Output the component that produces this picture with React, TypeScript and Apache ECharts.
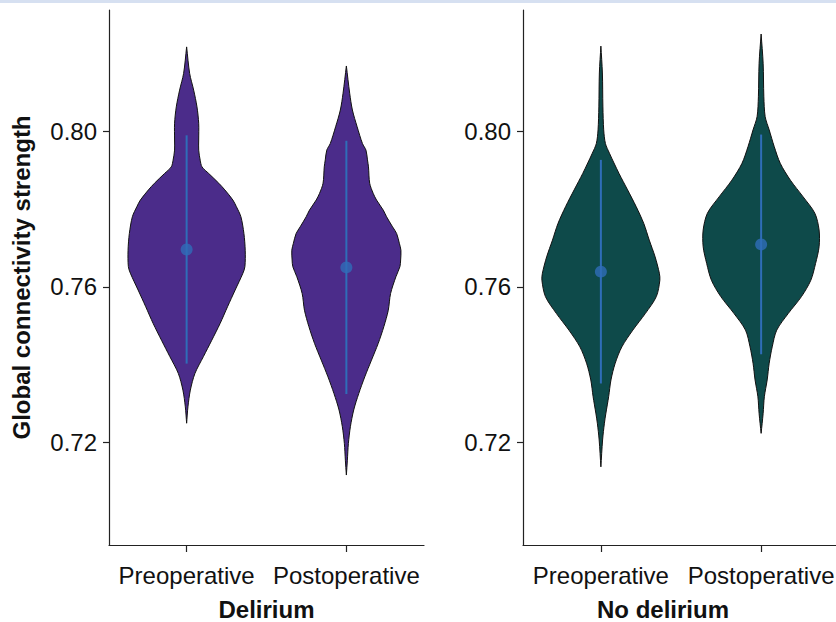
import React, { useEffect, useRef } from "react";
import * as echarts from "echarts";

// Categories and tick labels
const categories = ["Preoperative", "Postoperative"];
const groups = ["Delirium", "No delirium"];
const yTicks = [0.72, 0.76, 0.8];

// Violin profiles: [value, relative density]
const deliriumPre: number[][] = [
  [0.8216, 0], [0.8148, 3], [0.8105, 7], [0.8062, 10.3], [0.802, 12], [0.7977, 12],
  [0.7951, 12], [0.7925, 13.5], [0.7908, 15.3], [0.7891, 22], [0.7866, 32], [0.7849, 38],
  [0.7823, 46], [0.7806, 49.5], [0.778, 54], [0.7737, 57], [0.7694, 58.3], [0.7652, 58],
  [0.7635, 56], [0.7592, 48.3], [0.7549, 40.7], [0.7506, 33.3], [0.7463, 25], [0.7421, 16.7],
  [0.7378, 8.3], [0.7335, 3.7], [0.7292, 1.3], [0.725, 0],
];
const deliriumPost: number[][] = [
  [0.8167, 0], [0.8097, 3.3], [0.8054, 6], [0.8011, 10.7], [0.7968, 16], [0.7951, 19.5],
  [0.7926, 21], [0.7908, 22], [0.7866, 23.2], [0.784, 26.7], [0.7823, 30], [0.7797, 36.7],
  [0.778, 40], [0.7754, 46], [0.7737, 50], [0.7712, 52.7], [0.7694, 54.3], [0.7669, 54],
  [0.7652, 53.3], [0.7626, 49.3], [0.7583, 44], [0.754, 41.7], [0.7498, 37.3], [0.7455, 31.7],
  [0.7412, 25], [0.7369, 18.3], [0.7326, 12.3], [0.7284, 7.3], [0.7241, 4], [0.7198, 2],
  [0.7155, 1], [0.7117, 0],
];
const noDeliriumPre: number[][] = [
  [0.8218, 0], [0.8149, 1.5], [0.8062, 2], [0.8003, 2.8], [0.7968, 4.5], [0.7943, 8.5],
  [0.7918, 13], [0.7891, 18], [0.7849, 26.5], [0.7806, 35], [0.7763, 42.5], [0.772, 48],
  [0.7677, 53.8], [0.7635, 58], [0.7617, 58.5], [0.7575, 55], [0.7532, 44.2], [0.7489, 31.7],
  [0.7446, 20.8], [0.7404, 14.2], [0.7361, 10], [0.7318, 7.7], [0.7276, 5], [0.725, 3.5],
  [0.7207, 1.7], [0.7138, 0],
];
const noDeliriumPost: number[][] = [
  [0.8249, 0], [0.8174, 2], [0.8088, 2.7], [0.8037, 4], [0.8003, 8], [0.796, 13],
  [0.7917, 19], [0.7874, 29], [0.7831, 41.7], [0.7789, 53.3], [0.7746, 57.5], [0.7703, 57.5],
  [0.766, 54], [0.7617, 49.3], [0.7575, 40], [0.7532, 27], [0.7489, 15.5], [0.7446, 11],
  [0.7404, 8], [0.7361, 6], [0.7318, 3.2], [0.7275, 2], [0.7224, 0],
];

// Mean and SD per group: [preop, postop]
const deliriumMean = [0.7696, 0.765];
const deliriumSd = [0.0293, 0.0325];
const noDeliriumMean = [0.7639, 0.7709];
const noDeliriumSd = [0.0287, 0.0282];

const yMin = 0.69374;
const yMax = 0.83107;

export default function App() {
  const ref = useRef<HTMLDivElement>(null);

  useEffect(() => {
    document.body.style.margin = "0";
    if (!ref.current) return;
    const chart = echarts.init(ref.current, null, { renderer: "svg" });

    const profiles = [
      [deliriumPre, deliriumPost],
      [noDeliriumPre, noDeliriumPost],
    ];
    const means = [deliriumMean, noDeliriumMean];
    const sds = [deliriumSd, noDeliriumSd];
    const fills = ["#4b2c8a", "#0e4a4a"];
    const blue = "#2f6db8";
    let dMax = 0;
    profiles.forEach((g) => g.forEach((p) => p.forEach((r) => (dMax = Math.max(dMax, r[1])))));
    const halfFrac = 0.368;
    const font = "'Liberation Sans', Arial, Helvetica, sans-serif";

    const gridsDef = [
      { left: 109, top: 10, width: 315, height: 535, outerBoundsMode: "none", containLabel: false },
      { left: 523, top: 10, width: 316, height: 535, outerBoundsMode: "none", containLabel: false },
    ];

    const xAxes = groups.map((g, i) => ({
      type: "value",
      gridIndex: i,
      min: -0.486,
      max: 1.486,
      axisLine: { show: true, onZero: false, lineStyle: { color: "#222", width: 1.2 } },
      axisTick: { show: true, customValues: [0, 1], length: 7, lineStyle: { color: "#222", width: 1.2 } },
      axisLabel: {
        show: true,
        customValues: [0, 1],
        formatter: (v: number) => categories[Math.round(v)] ?? "",
        fontSize: 24,
        color: "#111",
        fontFamily: font,
        margin: 18,
      },
      splitLine: { show: false },
      name: g,
      nameLocation: "middle",
      nameGap: 52,
      nameTextStyle: {
        fontSize: 24,
        fontWeight: "bold",
        color: "#111",
        fontFamily: font,
        padding: i === 1 ? [0, 36, 0, 0] : 0,
      },
    }));

    const yAxes = groups.map((g, i) => ({
      type: "value",
      gridIndex: i,
      min: yMin,
      max: yMax,
      axisLine: { show: true, onZero: false, lineStyle: { color: "#222", width: 1.2 } },
      axisTick: { show: true, customValues: yTicks, length: 6, lineStyle: { color: "#222", width: 1.2 } },
      axisLabel: {
        show: true,
        customValues: yTicks,
        formatter: (v: number) => v.toFixed(2),
        fontSize: 24,
        color: "#111",
        fontFamily: font,
        margin: 12,
      },
      splitLine: { show: false },
      name: i === 0 ? "Global connectivity strength" : "",
      nameLocation: "middle",
      nameGap: 76,
      nameTextStyle: { fontSize: 24, fontWeight: "bold", color: "#111", fontFamily: font },
    }));

    const series: any[] = [];
    groups.forEach((g, gi) => {
      series.push({
        type: "custom",
        name: g + " violin",
        xAxisIndex: gi,
        yAxisIndex: gi,
        clip: false,
        silent: true,
        data: categories.map((c, ci) => [ci, means[gi][ci], means[gi][ci] - sds[gi][ci], means[gi][ci] + sds[gi][ci]]),
        encode: { x: 0, y: 1 },
        renderItem: (params: any, api: any) => {
          const ci = api.value(0);
          const prof = profiles[gi][ci];
          const band = api.size([1, 0])[0];
          const right = prof.map((r) => {
            const c = api.coord([ci, r[0]]);
            return [c[0] + (r[1] / dMax) * band * halfFrac, c[1]];
          });
          const left = prof
            .slice()
            .reverse()
            .map((r) => {
              const c = api.coord([ci, r[0]]);
              return [c[0] - (r[1] / dMax) * band * halfFrac, c[1]];
            });
          const lo = api.coord([ci, api.value(2)]);
          const hi = api.coord([ci, api.value(3)]);
          return {
            type: "group",
            children: [
              {
                type: "polygon",
                shape: { points: right.concat(left), smooth: 0.3 },
                style: { fill: fills[gi], stroke: "#111", lineWidth: 1 },
              },
              {
                type: "line",
                shape: { x1: lo[0], y1: lo[1], x2: hi[0], y2: hi[1] },
                style: { stroke: blue, lineWidth: 2 },
              },
            ],
          };
        },
      });
      series.push({
        type: "scatter",
        name: g + " mean",
        xAxisIndex: gi,
        yAxisIndex: gi,
        silent: true,
        symbol: "circle",
        symbolSize: 12,
        itemStyle: { color: blue },
        data: categories.map((c, ci) => [ci, means[gi][ci]]),
        z: 5,
      });
    });

    chart.setOption({
      animation: false,
      backgroundColor: "#ffffff",
      grid: gridsDef,
      xAxis: xAxes,
      yAxis: yAxes,
      series,
      graphic: [
        {
          type: "rect",
          left: 0,
          top: 0,
          shape: { width: 836, height: 3 },
          style: { fill: "#d6e0f1" },
          silent: true,
        },
      ],
    });

    return () => chart.dispose();
  }, []);

  return <div ref={ref} style={{ width: 836, height: 622 }} />;
}
